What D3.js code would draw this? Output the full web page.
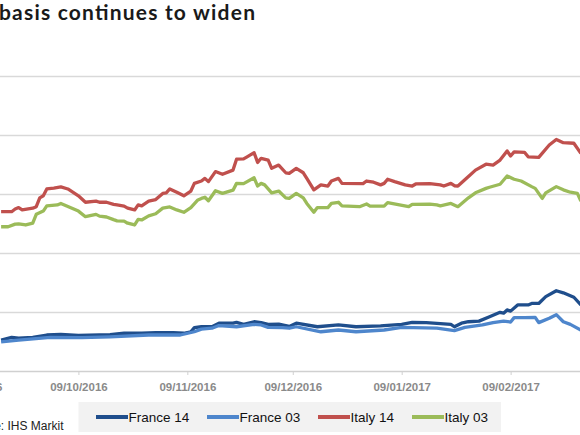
<!DOCTYPE html>
<html>
<head>
<meta charset="utf-8">
<script src="https://cdn.jsdelivr.net/npm/d3@7"></script>
<style>
  body { margin: 0; background: #fff; }
  svg { display: block; }
</style>
</head>
<body>
<svg id="chart" width="580" height="435"></svg>
<script>
// values (bp), dates dd/mm
var france14 = [
  ["2016-09-17", 10.5], ["2016-09-20", 11.4], ["2016-09-22", 11.1], ["2016-09-26", 11.4],
  ["2016-09-30", 12.2], ["2016-10-04", 12.4], ["2016-10-09", 12.1], ["2016-10-18", 12.3],
  ["2016-10-22", 12.8], ["2016-10-27", 12.8], ["2016-10-31", 13.0], ["2016-11-05", 13.0],
  ["2016-11-08", 12.8], ["2016-11-10", 13.3], ["2016-11-11", 14.7], ["2016-11-13", 15.0],
  ["2016-11-16", 15.0], ["2016-11-18", 16.2], ["2016-11-22", 16.2], ["2016-11-23", 16.5],
  ["2016-11-25", 15.8], ["2016-11-28", 16.7], ["2016-11-30", 16.4], ["2016-12-02", 15.8],
  ["2016-12-05", 15.9], ["2016-12-08", 15.1], ["2016-12-10", 16.2], ["2016-12-16", 15.0],
  ["2016-12-22", 15.6], ["2016-12-27", 15.0], ["2017-01-03", 15.3], ["2017-01-09", 15.8],
  ["2017-01-12", 16.5], ["2017-01-16", 16.4], ["2017-01-23", 15.8], ["2017-01-24", 15.0],
  ["2017-01-26", 16.2], ["2017-01-28", 16.7], ["2017-01-31", 16.9], ["2017-02-03", 18.4],
  ["2017-02-06", 19.9], ["2017-02-07", 19.6], ["2017-02-08", 20.7], ["2017-02-09", 20.3],
  ["2017-02-11", 22.4], ["2017-02-14", 22.4], ["2017-02-15", 22.9], ["2017-02-17", 22.9],
  ["2017-02-19", 25.2], ["2017-02-22", 27.2], ["2017-02-24", 26.5], ["2017-02-27", 25.0],
  ["2017-03-01", 22.4]
];
var france03 = [
  ["2016-09-17", 9.9], ["2016-09-22", 10.5], ["2016-10-01", 11.4], ["2016-10-10", 11.3],
  ["2016-10-18", 11.6], ["2016-10-29", 12.2], ["2016-11-07", 12.2], ["2016-11-11", 13.3],
  ["2016-11-13", 14.2], ["2016-11-16", 14.5], ["2016-11-18", 15.4], ["2016-11-23", 15.0],
  ["2016-11-28", 15.8], ["2016-11-30", 15.6], ["2016-12-02", 14.8], ["2016-12-06", 14.7],
  ["2016-12-08", 14.5], ["2016-12-10", 15.0], ["2016-12-17", 13.3], ["2016-12-22", 13.9],
  ["2016-12-27", 13.3], ["2017-01-04", 13.9], ["2017-01-09", 14.8], ["2017-01-19", 14.5],
  ["2017-01-24", 13.7], ["2017-01-27", 14.8], ["2017-02-01", 15.6], ["2017-02-04", 16.4],
  ["2017-02-07", 16.9], ["2017-02-09", 16.6], ["2017-02-10", 18.1], ["2017-02-13", 18.1],
  ["2017-02-16", 18.2], ["2017-02-17", 16.4], ["2017-02-20", 17.9], ["2017-02-22", 19.1],
  ["2017-02-24", 16.7], ["2017-02-26", 15.8], ["2017-03-01", 13.9]
];
var italy14 = [
  ["2016-09-17", 54.0], ["2016-09-20", 54.0], ["2016-09-21", 54.9], ["2016-09-22", 55.4],
  ["2016-09-23", 54.6], ["2016-09-26", 55.2], ["2016-09-27", 55.7], ["2016-09-28", 58.7],
  ["2016-09-29", 59.4], ["2016-09-30", 61.7], ["2016-10-02", 62.0], ["2016-10-04", 62.4],
  ["2016-10-06", 61.7], ["2016-10-09", 59.4], ["2016-10-11", 57.2], ["2016-10-14", 57.6],
  ["2016-10-15", 57.2], ["2016-10-17", 57.2], ["2016-10-19", 56.5], ["2016-10-20", 56.3],
  ["2016-10-22", 55.9], ["2016-10-23", 55.2], ["2016-10-25", 54.6], ["2016-10-26", 56.3],
  ["2016-10-27", 56.0], ["2016-10-29", 57.6], ["2016-10-31", 58.1], ["2016-11-02", 60.2],
  ["2016-11-03", 60.4], ["2016-11-04", 61.7], ["2016-11-06", 60.6], ["2016-11-08", 59.4],
  ["2016-11-10", 61.0], ["2016-11-11", 63.6], ["2016-11-13", 64.4], ["2016-11-14", 65.3],
  ["2016-11-15", 64.2], ["2016-11-17", 67.6], ["2016-11-19", 66.7], ["2016-11-22", 68.1],
  ["2016-11-23", 71.8], ["2016-11-25", 71.9], ["2016-11-26", 72.6], ["2016-11-28", 74.0],
  ["2016-11-29", 70.7], ["2016-11-30", 72.1], ["2016-12-02", 71.5], ["2016-12-03", 68.7],
  ["2016-12-05", 69.8], ["2016-12-07", 67.2], ["2016-12-08", 67.0], ["2016-12-10", 68.7],
  ["2016-12-12", 67.2], ["2016-12-13", 65.3], ["2016-12-15", 61.4], ["2016-12-17", 63.1],
  ["2016-12-19", 62.7], ["2016-12-20", 64.4], ["2016-12-22", 65.3], ["2016-12-23", 63.6],
  ["2016-12-29", 63.5], ["2016-12-30", 64.4], ["2017-01-01", 64.0], ["2017-01-03", 63.1],
  ["2017-01-04", 63.6], ["2017-01-05", 65.0], ["2017-01-07", 64.2], ["2017-01-10", 63.1],
  ["2017-01-12", 62.7], ["2017-01-13", 63.4], ["2017-01-17", 63.5], ["2017-01-20", 63.1],
  ["2017-01-21", 62.7], ["2017-01-23", 63.6], ["2017-01-24", 62.8], ["2017-01-25", 62.7],
  ["2017-01-28", 65.9], ["2017-01-30", 68.1], ["2017-02-02", 70.1], ["2017-02-04", 69.8],
  ["2017-02-06", 71.5], ["2017-02-08", 74.6], ["2017-02-09", 72.9], ["2017-02-10", 74.3],
  ["2017-02-13", 74.1], ["2017-02-14", 72.6], ["2017-02-17", 72.4], ["2017-02-20", 76.6],
  ["2017-02-22", 78.5], ["2017-02-24", 77.4], ["2017-02-27", 77.2], ["2017-03-01", 73.8]
];
var italy03 = [
  ["2016-09-17", 48.9], ["2016-09-19", 48.9], ["2016-09-21", 49.8], ["2016-09-22", 49.9],
  ["2016-09-24", 49.5], ["2016-09-26", 50.1], ["2016-09-27", 53.1], ["2016-09-29", 54.2],
  ["2016-09-30", 56.0], ["2016-10-03", 56.3], ["2016-10-04", 56.8], ["2016-10-09", 54.2],
  ["2016-10-11", 52.3], ["2016-10-14", 53.1], ["2016-10-15", 52.5], ["2016-10-17", 52.2],
  ["2016-10-19", 51.3], ["2016-10-20", 50.9], ["2016-10-22", 50.8], ["2016-10-23", 50.1],
  ["2016-10-25", 49.5], ["2016-10-26", 51.4], ["2016-10-27", 51.2], ["2016-10-29", 52.6],
  ["2016-10-31", 53.3], ["2016-11-02", 55.2], ["2016-11-04", 55.6], ["2016-11-06", 54.6],
  ["2016-11-08", 53.8], ["2016-11-10", 55.4], ["2016-11-12", 58.0], ["2016-11-13", 58.5],
  ["2016-11-14", 58.9], ["2016-11-15", 57.7], ["2016-11-17", 61.1], ["2016-11-19", 60.2],
  ["2016-11-22", 61.3], ["2016-11-23", 63.6], ["2016-11-25", 63.5], ["2016-11-28", 65.5],
  ["2016-11-29", 62.7], ["2016-11-30", 63.6], ["2016-12-01", 63.1], ["2016-12-03", 60.4],
  ["2016-12-05", 61.0], ["2016-12-07", 58.7], ["2016-12-08", 58.5], ["2016-12-10", 60.2],
  ["2016-12-12", 58.7], ["2016-12-13", 56.8], ["2016-12-15", 53.8], ["2016-12-16", 55.4],
  ["2016-12-19", 55.4], ["2016-12-20", 56.8], ["2016-12-22", 57.2], ["2016-12-23", 56.0],
  ["2016-12-28", 55.7], ["2016-12-30", 56.6], ["2016-12-31", 55.9], ["2017-01-04", 55.9],
  ["2017-01-05", 57.1], ["2017-01-11", 55.7], ["2017-01-12", 56.5], ["2017-01-17", 56.6],
  ["2017-01-19", 56.3], ["2017-01-20", 56.0], ["2017-01-23", 56.8], ["2017-01-25", 55.7],
  ["2017-01-28", 58.7], ["2017-01-30", 60.4], ["2017-02-02", 61.9], ["2017-02-03", 62.3],
  ["2017-02-06", 63.3], ["2017-02-08", 66.1], ["2017-02-10", 65.0], ["2017-02-12", 64.4],
  ["2017-02-15", 62.5], ["2017-02-16", 61.9], ["2017-02-18", 58.5], ["2017-02-19", 60.4],
  ["2017-02-22", 62.5], ["2017-02-24", 61.4], ["2017-02-26", 60.6], ["2017-02-28", 60.2],
  ["2017-03-01", 57.6]
];

var seriesNames = ["France 14", "France 03", "Italy 14", "Italy 03"];
var seriesColors = ["#1f4e8c", "#4e86cc", "#c0504d", "#9bbb59"];
var tickDates = ["2016-09-09", "2016-10-09", "2016-11-09", "2016-12-09", "2017-01-09", "2017-02-09"];
var gridValues = [20, 40, 60, 80, 100];

var parse = d3.timeParse("%Y-%m-%d");
var svg = d3.select("#chart");

// the picture is a crop, so the plot runs past both edges
var x = d3.scaleTime()
  .domain([parse("2016-09-09"), parse("2017-03-09")])
  .range([-27, 609]);
var y = d3.scaleLinear().domain([0, 100]).range([371, 76]);

// title (cut on the left in the original)
svg.append("text")
  .attr("x", -1).attr("y", 20)
  .attr("textLength", 256)
  .attr("lengthAdjust", "spacing")
  .style("font-family", "Lato, 'Open Sans', sans-serif")
  .style("font-weight", "bold")
  .style("font-size", "21px")
  .style("fill", "#1a1a1a")
  .text("basis continues to widen");

// gridlines
var grid = svg.append("g")
  .call(d3.axisLeft(y).tickValues(gridValues).tickSize(-700).tickFormat(""))
  .attr("transform", "translate(-60,0)");
grid.select(".domain").remove();
grid.selectAll("line").style("stroke", "#d9d9d9").style("stroke-width", 1.5);

// x axis
var xAxis = svg.append("g")
  .attr("transform", "translate(0," + y(0) + ")")
  .call(d3.axisBottom(x)
    .tickValues(tickDates.map(parse))
    .tickSize(4)
    .tickPadding(8)
    .tickFormat(d3.timeFormat("%d/%m/%Y")));
xAxis.select(".domain")
  .attr("d", "M-60,0.5H700")
  .style("stroke", "#d0d0d0").style("stroke-width", 1.5);
xAxis.selectAll("line").style("stroke", "#d0d0d0");
xAxis.selectAll("text")
  .style("font-family", "'Liberation Sans', Arial, sans-serif")
  .style("font-weight", "bold")
  .style("font-size", "11.5px")
  .style("fill", "#8a8a8a");

// lines
var line = d3.line()
  .x(function(d){ return x(parse(d[0])); })
  .y(function(d){ return y(d[1]); });

var allSeries = [france14, france03, italy14, italy03];
svg.append("g").selectAll("path")
  .data(allSeries)
  .enter().append("path")
  .attr("d", line)
  .style("fill", "none")
  .style("stroke", function(d, i){ return seriesColors[i]; })
  .style("stroke-width", 3.3)
  .style("stroke-linejoin", "round");

// source
svg.append("text")
  .attr("x", 63.5).attr("y", 430)
  .attr("text-anchor", "end")
  .style("font-family", "'Liberation Sans', Arial, sans-serif")
  .style("font-size", "12px")
  .style("fill", "#222")
  .text("Source: IHS Markit");

// legend
var legend = svg.append("g");
legend.append("rect")
  .attr("x", 78.5).attr("y", 402)
  .attr("width", 422.5).attr("height", 30)
  .style("fill", "#f2f2f2");
var legendX = [96, 207, 318, 412];
var items = legend.selectAll(".item")
  .data(seriesNames)
  .enter().append("g")
  .attr("transform", function(d, i){ return "translate(" + legendX[i] + ",417)"; });
items.append("line")
  .attr("x1", 0).attr("x2", 32)
  .style("stroke", function(d, i){ return seriesColors[i]; })
  .style("stroke-width", 4);
items.append("text")
  .attr("x", 32.5).attr("y", 5)
  .style("font-family", "'Liberation Sans', Arial, sans-serif")
  .style("font-size", "13.5px")
  .style("fill", "#111")
  .text(function(d){ return d; });
</script>
</body>
</html>
